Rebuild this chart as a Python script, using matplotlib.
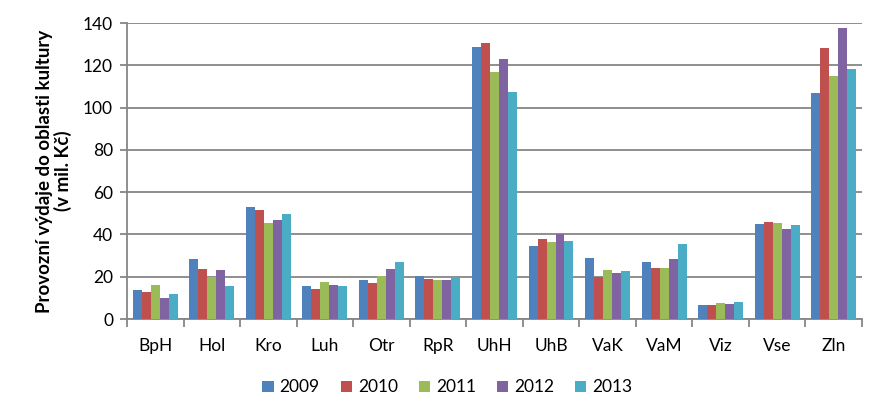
import matplotlib
matplotlib.use('Agg')
import matplotlib.pyplot as plt
import numpy as np

categories = ['BpH', 'Hol', 'Kro', 'Luh', 'Otr', 'RpR', 'UhH', 'UhB', 'VaK', 'VaM', 'Viz', 'Vse', 'Zln']
years = ['2009', '2010', '2011', '2012', '2013']
v2009 = [13.9, 28.5, 53.1, 15.8, 18.6, 20.5, 128.8, 34.7, 29.0, 27.1, 6.8, 45.1, 107.0]
v2010 = [12.9, 23.8, 51.7, 14.3, 17.2, 19.1, 130.7, 38.0, 19.9, 24.3, 6.8, 46.0, 128.3]
v2011 = [16.2, 20.0, 45.6, 17.7, 20.5, 18.6, 117.0, 36.6, 23.3, 24.3, 7.7, 45.6, 115.1]
v2012 = [10.1, 23.3, 47.0, 16.2, 23.8, 18.6, 123.1, 40.0, 21.9, 28.5, 7.3, 42.7, 137.8]
v2013 = [12.0, 15.8, 49.8, 15.8, 27.1, 19.7, 107.5, 37.0, 22.9, 35.6, 8.2, 44.6, 118.4]
series = [v2009, v2010, v2011, v2012, v2013]
colors = ['#4F81BD', '#C0504D', '#9BBB59', '#8064A2', '#4BACC6']

plt.rcParams['font.family'] = ['Lato', 'DejaVu Sans']
grid_col = '#868686'

fig = plt.figure(figsize=(8.86, 4.13), dpi=100)
ax = fig.add_axes([0.1433, 0.2276, 0.8296, 0.7167])

n = len(series)
width = 1.0 / (n + 1.3)
x = np.arange(len(categories))
for i, (vals, col, yr) in enumerate(zip(series, colors, years)):
    ax.bar(x + (i - (n - 1) / 2) * width, vals, width, color=col, label=yr, zorder=3)

ax.set_xlim(-0.5, len(categories) - 0.5)
ax.set_ylim(0, 140)
ax.set_yticks(range(0, 141, 20))
ax.yaxis.grid(True, color=grid_col, linewidth=1.3, zorder=0)
ax.set_axisbelow(True)

ax.set_xticks(x)
ax.set_xticklabels(categories, fontsize=12.5)
ax.tick_params(axis='x', length=0, pad=14)
ax.set_xticks(np.arange(-0.5, len(categories)), minor=True)
ax.tick_params(axis='x', which='minor', length=6, width=1.3, color=grid_col, direction='out')
ax.tick_params(axis='y', length=5, width=1.3, color=grid_col, labelsize=12.5, pad=5)

for s in ['top', 'right']:
    ax.spines[s].set_visible(False)
for s in ['left', 'bottom']:
    ax.spines[s].set_color(grid_col)
    ax.spines[s].set_linewidth(1.3)

ax.set_ylabel('Provozní výdaje do oblasti kultury\n(v mil. Kč)', fontsize=13.5, fontweight='bold',
              labelpad=8, linespacing=1.05)

fig.legend(loc='center', bbox_to_anchor=(0.505, 0.062), ncol=5, frameon=False,
           fontsize=12.5, handlelength=0.65, handleheight=0.65, handletextpad=0.35, columnspacing=1.2)

fig.savefig('out.png', dpi=100)
